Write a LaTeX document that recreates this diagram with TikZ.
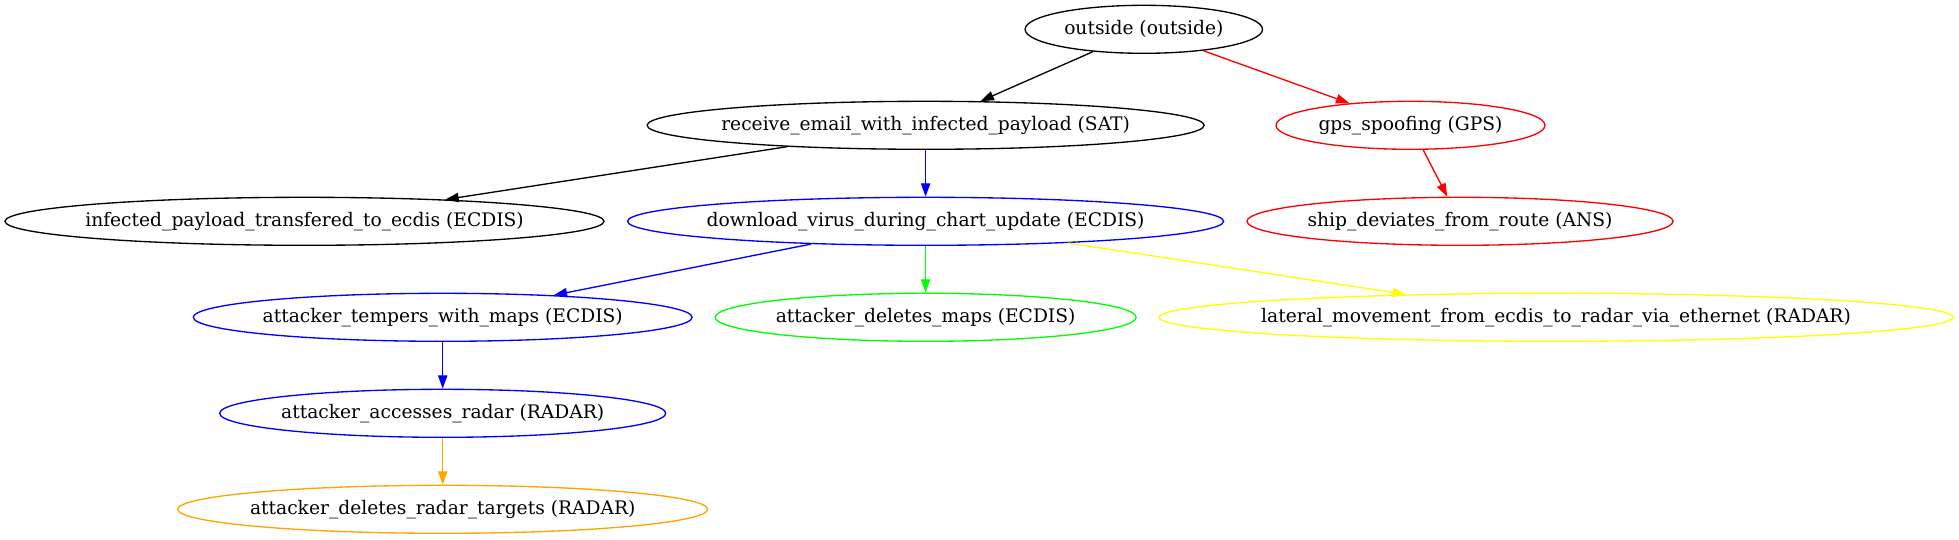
\documentclass[tikz,border=0pt]{standalone}
\usepackage{fontspec}
\setmainfont{DejaVu Serif}
\usetikzlibrary{shapes.geometric,arrows.meta}
\definecolor{gvred}{HTML}{FF0000}
\definecolor{gvblue}{HTML}{0000FF}
\definecolor{gvgreen}{HTML}{00FF00}
\definecolor{gvyellow}{HTML}{FFFF00}
\definecolor{gvorange}{HTML}{FFA500}
\newcommand\ctext[1]{\makebox[0pt]{#1}}
\tikzset{
  gvnode/.style={ellipse, draw, line width=1pt, inner sep=0pt, minimum height=36pt,
    font=\fontsize{14pt}{16pt}\selectfont, text=black},
  gvedge/.style={line width=1pt, -{Triangle[length=10pt,width=7pt]}},
}
\begin{document}
\begin{tikzpicture}[x=0.75pt,y=-0.75pt]
\useasboundingbox (0,0) rectangle (1959,539);
\node[gvnode, minimum width=237.4*0.75pt] (outside) at (1143.8,29.3) {\ctext{outside (outside)}};
\node[gvnode, minimum width=557*0.75pt] (receive) at (925.6,125.3) {\ctext{receive\_email\_with\_infected\_payload (SAT)}};
\node[gvnode, draw=gvred, minimum width=269*0.75pt] (gps) at (1410.5,125.3) {\ctext{gps\_spoofing (GPS)}};
\node[gvnode, minimum width=599*0.75pt] (infected) at (304.5,221.3) {\ctext{infected\_payload\_transfered\_to\_ecdis (ECDIS)}};
\node[gvnode, draw=gvblue, minimum width=596*0.75pt] (download) at (925.6,221.3) {\ctext{download\_virus\_during\_chart\_update (ECDIS)}};
\node[gvnode, draw=gvred, minimum width=426*0.75pt] (ship) at (1460,221.3) {\ctext{ship\_deviates\_from\_route (ANS)}};
\node[gvnode, draw=gvblue, minimum width=498.8*0.75pt] (tempers) at (442.7,317.3) {\ctext{attacker\_tempers\_with\_maps (ECDIS)}};
\node[gvnode, draw=gvgreen, minimum width=421*0.75pt] (deletes) at (925.6,317.3) {\ctext{attacker\_deletes\_maps (ECDIS)}};
\node[gvnode, draw=gvyellow, minimum width=794*0.75pt] (lateral) at (1556,317.3) {\ctext{lateral\_movement\_from\_ecdis\_to\_radar\_via\_ethernet (RADAR)}};
\node[gvnode, draw=gvblue, minimum width=446*0.75pt] (accesses) at (442.7,413.3) {\ctext{attacker\_accesses\_radar (RADAR)}};
\node[gvnode, draw=gvorange, minimum width=530*0.75pt] (targets) at (442.7,509.3) {\ctext{attacker\_deletes\_radar\_targets (RADAR)}};
\draw[gvedge] (outside) -- (receive);
\draw[gvedge, gvred] (outside) -- (gps);
\draw[gvedge] (receive) -- (infected);
\draw[gvedge, gvblue] (receive) -- (download);
\draw[gvedge, gvred] (gps) -- (ship);
\draw[gvedge, gvblue] (download) -- (tempers);
\draw[gvedge, gvgreen] (download) -- (deletes);
\draw[gvedge, gvyellow] (download) -- (lateral);
\draw[gvedge, gvblue] (tempers) -- (accesses);
\draw[gvedge, gvorange] (accesses) -- (targets);
\end{tikzpicture}
\end{document}
